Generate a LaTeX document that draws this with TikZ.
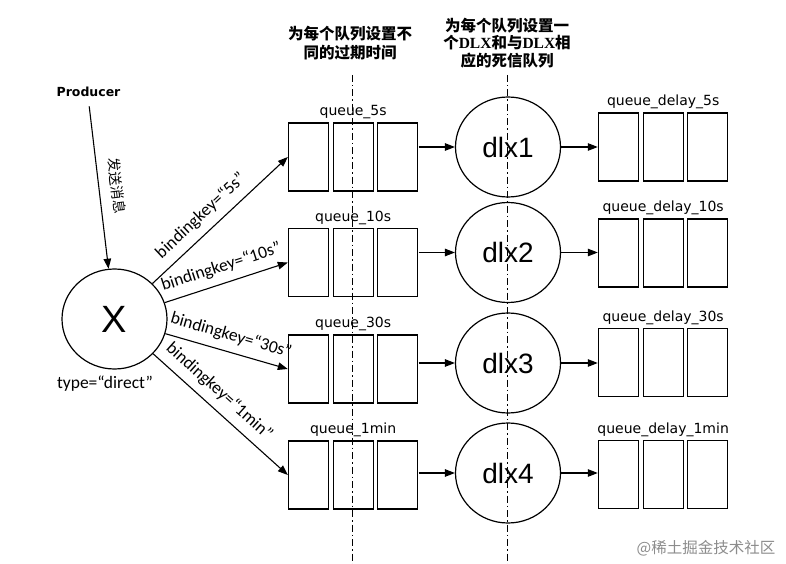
\documentclass[tikz,border=0pt]{standalone}
\usepackage{fontspec}
\setmainfont{Carlito}
\newfontfamily\qfont{DejaVu Sans}
\newfontfamily\cfont{Liberation Sans}
\newfontfamily\lfont{Liberation Serif}
\newfontfamily\cjk{Noto Sans CJK SC}
\usetikzlibrary{arrows.meta,fit,positioning,shapes.geometric}
\newcommand{\queuebox}[4]{\node[cell, anchor=west] (#1a) at (#2,#3) {};\node[cell, right=3.5pt of #1a] (#1b) {};\node[cell, right=3.5pt of #1b] (#1c) {};\node[fit=(#1a)(#1c), inner sep=0pt] (#1) {};\node[qlabel, above=1pt of #1] (#1l) {#4};}
\tikzset{
  cell/.style={draw, line width=1.1pt, minimum width=40pt, minimum height=68pt, inner sep=0pt},
  qlabel/.style={font=\qfont\fontsize{14}{15}\selectfont, inner sep=2pt},
  exch/.style={draw, ellipse, line width=1.2pt, minimum width=105pt, minimum height=100pt, inner sep=0pt},
  keylabel/.style={font=\fontsize{17.5}{19}\selectfont, inner sep=2pt},
  arr/.style={-{Triangle[length=10pt,width=7.5pt]}, line width=1.1pt},
  sep/.style={line width=1pt, dash pattern=on 7pt off 3pt on 1.5pt off 3pt},
  head/.style={font=\cjk\bfseries\fontsize{15.5}{18}\selectfont, align=center, inner sep=0pt}
}

\begin{document}
\begin{tikzpicture}[x=1pt, y=-1pt]
\useasboundingbox (0,0) rectangle (786,564);
% column headers and separators
\node[head] (h1) at (350,43) {为每个队列设置不\\[1pt]同的过期时间};
\node[head, font=\cjk\bfseries\fontsize{15.5}{17.5}\selectfont] (h2) at (507,43) {为每个队列设置一\\个{\lfont\bfseries DLX}和与{\lfont\bfseries DLX}相\\应的死信队列};
\coordinate (s1) at (352,75);
\coordinate (s2) at (507,75);
\draw[sep] (s1) -- (s1 |- 0,564);
\draw[sep] (s2) -- (s2 |- 0,564);
% producer and exchange
\node[font=\qfont\bfseries\fontsize{12.5}{14}\selectfont] (prod) at (88.5,92) {Producer};
\node[exch, font=\cfont\fontsize{38}{40}\selectfont] (X) at (114.5,319) {X};
\node[keylabel] (xtype) at (105,384) {type=“direct”};
\draw[arr, shorten <=6pt] (prod.south) -- (X) node[pos=0.52, sloped, above=10pt, font=\cjk\fontsize{14}{16}\selectfont, inner sep=1pt] {发送消息};
% queues, dead letter exchanges and delay queues
\foreach \i/\qy/\dy/\ey/\t/\p in {1/157/147/147/5s/0.44, 2/262.5/252.5/253/10s/0.5, 3/369/363/362.5/30s/0.5, 4/475/473/474.5/1min/0.41}{
  \queuebox{q\i}{288}{\qy}{queue\_\t}
  \node[exch, font=\cfont\fontsize{28}{30}\selectfont] (d\i) at (508,\dy) {dlx\i};
  \queuebox{e\i}{598}{\ey}{queue\_delay\_\t}
  \draw[arr] (X) -- (q\i.west) node[pos=\p, sloped, above=6pt, keylabel] {bindingkey=“\t”};
  \draw[arr] (q\i.east |- d\i) -- (d\i);
  \draw[arr] (d\i) -- (d\i -| e\i.west);
}
\node[font=\cjk\fontsize{15.5}{17}\selectfont, text=black!45] (wm) at (706,548) {@稀土掘金技术社区};
\end{tikzpicture}
\end{document}
